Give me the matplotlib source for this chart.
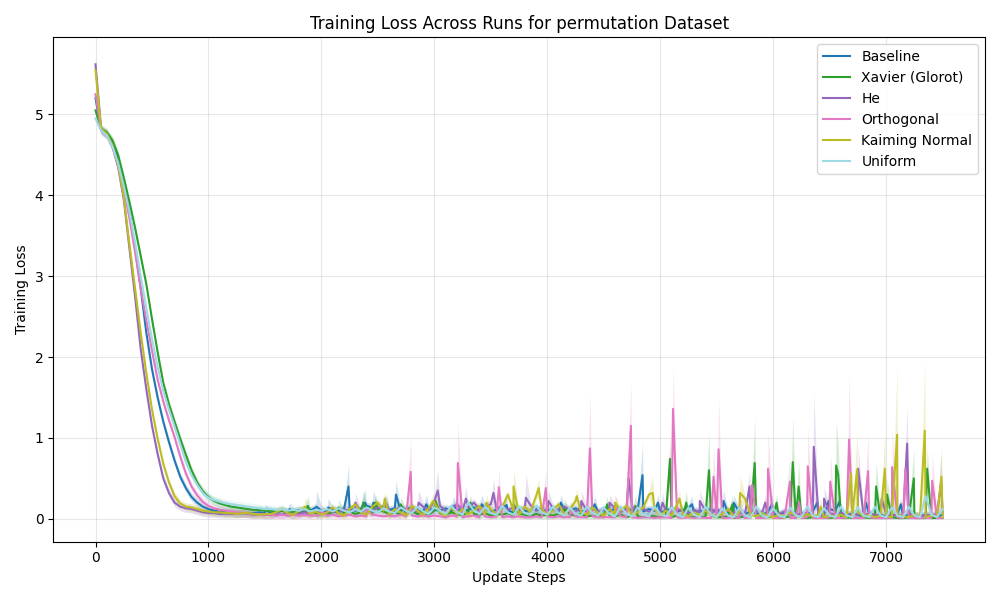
import numpy as np
import matplotlib
matplotlib.use('Agg')
import matplotlib.pyplot as plt

# logged every 50 update steps
steps = np.arange(0, 7501, 50)

run_names = ['Baseline', 'Xavier (Glorot)', 'He', 'Orthogonal', 'Kaiming Normal', 'Uniform']

baseline_loss = [
    5.20, 4.80, 4.76, 4.65, 4.45, 4.15, 3.80, 3.35, 2.85, 2.30,
    1.85, 1.50, 1.20, 0.95, 0.72, 0.52, 0.38, 0.27, 0.20, 0.15,
    0.12, 0.10, 0.09, 0.08, 0.08, 0.07, 0.07, 0.07, 0.07, 0.08, 0.07,
    0.07, 0.08, 0.10, 0.08, 0.09, 0.11, 0.09, 0.10, 0.14, 0.10,
    0.09, 0.11, 0.10, 0.12, 0.13, 0.10, 0.12, 0.16, 0.14, 0.12,
    0.15, 0.11, 0.13, 0.10, 0.12, 0.14, 0.10, 0.09, 0.12, 0.11,
    0.10, 0.13, 0.09, 0.12, 0.10, 0.11, 0.14, 0.10, 0.12, 0.09,
    0.11, 0.13, 0.10, 0.08, 0.12, 0.10, 0.09, 0.13, 0.11, 0.10,
    0.12, 0.09, 0.11, 0.10, 0.13, 0.09, 0.10, 0.12, 0.08, 0.11,
    0.10, 0.12, 0.09, 0.13, 0.10, 0.11, 0.09, 0.12, 0.10, 0.08,
    0.10, 0.12, 0.09, 0.11, 0.13, 0.08, 0.10, 0.09, 0.12, 0.08,
    0.09, 0.07, 0.10, 0.08, 0.06, 0.09, 0.07, 0.05, 0.08, 0.06,
    0.05, 0.08, 0.06, 0.04, 0.07, 0.05, 0.09, 0.06, 0.05, 0.12,
    0.10, 0.06, 0.04, 0.07, 0.05, 0.03, 0.06, 0.04, 0.05, 0.03,
    0.04, 0.06, 0.03, 0.05, 0.04, 0.03, 0.05, 0.04, 0.03, 0.05,
]
xavier_loss = [
    5.05, 4.82, 4.78, 4.68, 4.50, 4.22, 3.92, 3.60, 3.25, 2.90,
    2.47, 2.06, 1.68, 1.42, 1.20, 0.99, 0.79, 0.60, 0.45, 0.34,
    0.27, 0.22, 0.19, 0.17, 0.15, 0.14, 0.13, 0.12, 0.11, 0.11, 0.10,
    0.10, 0.09, 0.10, 0.08, 0.09, 0.07, 0.08, 0.10, 0.07, 0.08,
    0.06, 0.08, 0.10, 0.07, 0.09, 0.06, 0.08, 0.11, 0.07, 0.12,
    0.09, 0.06, 0.08, 0.05, 0.07, 0.09, 0.06, 0.08, 0.05, 0.10,
    0.07, 0.05, 0.08, 0.06, 0.04, 0.09, 0.06, 0.05, 0.07, 0.04,
    0.06, 0.05, 0.07, 0.04, 0.06, 0.05, 0.03, 0.06, 0.04, 0.05,
    0.04, 0.06, 0.03, 0.05, 0.04, 0.06, 0.03, 0.04, 0.05, 0.03,
    0.04, 0.03, 0.05, 0.02, 0.04, 0.03, 0.02, 0.04, 0.03, 0.02,
    0.03, 0.02, 0.04, 0.02, 0.03, 0.02, 0.03, 0.02, 0.04, 0.02,
    0.02, 0.03, 0.01, 0.02, 0.03, 0.02, 0.01, 0.02, 0.03, 0.02,
    0.01, 0.02, 0.03, 0.01, 0.02, 0.01, 0.02, 0.01, 0.02, 0.01,
    0.02, 0.01, 0.02, 0.01, 0.01, 0.02, 0.01, 0.02, 0.01, 0.01,
    0.02, 0.01, 0.01, 0.02, 0.01, 0.01, 0.02, 0.01, 0.01, 0.01,
]
he_loss = [
    5.62, 4.82, 4.75, 4.60, 4.35, 3.95, 3.35, 2.75, 2.10, 1.60,
    1.15, 0.80, 0.50, 0.32, 0.20, 0.15, 0.13, 0.12, 0.10, 0.08,
    0.07, 0.07, 0.06, 0.06, 0.06, 0.06, 0.07, 0.06, 0.05, 0.06, 0.05,
    0.05, 0.06, 0.05, 0.07, 0.05, 0.06, 0.08, 0.06, 0.09, 0.07,
    0.08, 0.10, 0.07, 0.12, 0.09, 0.11, 0.08, 0.13, 0.10, 0.14,
    0.12, 0.09, 0.11, 0.14, 0.10, 0.12, 0.09, 0.15, 0.11, 0.22,
    0.16, 0.10, 0.13, 0.18, 0.11, 0.14, 0.20, 0.12, 0.15, 0.18,
    0.12, 0.16, 0.11, 0.14, 0.10, 0.13, 0.17, 0.10, 0.12, 0.09,
    0.13, 0.10, 0.15, 0.11, 0.09, 0.14, 0.10, 0.12, 0.09, 0.11,
    0.10, 0.13, 0.09, 0.11, 0.15, 0.10, 0.12, 0.09, 0.11, 0.08,
    0.10, 0.08, 0.12, 0.09, 0.07, 0.11, 0.08, 0.10, 0.07, 0.12,
    0.08, 0.10, 0.07, 0.09, 0.06, 0.08, 0.11, 0.07, 0.05, 0.08,
    0.06, 0.09, 0.05, 0.07, 0.04, 0.08, 0.05, 0.06, 0.04, 0.07,
    0.05, 0.08, 0.04, 0.06, 0.05, 0.04, 0.07, 0.05, 0.04, 0.06,
    0.04, 0.05, 0.03, 0.06, 0.04, 0.03, 0.05, 0.04, 0.06, 0.08,
]
orthogonal_loss = [
    5.25, 4.80, 4.74, 4.60, 4.38, 4.08, 3.72, 3.30, 2.85, 2.45,
    2.08, 1.72, 1.45, 1.22, 1.01, 0.77, 0.56, 0.40, 0.29, 0.21,
    0.16, 0.13, 0.11, 0.10, 0.09, 0.08, 0.07, 0.07, 0.06, 0.06, 0.05,
    0.05, 0.04, 0.05, 0.04, 0.05, 0.04, 0.05, 0.04, 0.04, 0.05,
    0.04, 0.05, 0.03, 0.04, 0.05, 0.03, 0.04, 0.03, 0.05, 0.04,
    0.03, 0.04, 0.03, 0.05, 0.03, 0.04, 0.03, 0.04, 0.03, 0.04,
    0.03, 0.02, 0.04, 0.03, 0.02, 0.03, 0.04, 0.02, 0.03, 0.02,
    0.03, 0.02, 0.03, 0.02, 0.03, 0.02, 0.02, 0.03, 0.02, 0.03,
    0.02, 0.03, 0.02, 0.02, 0.03, 0.02, 0.02, 0.03, 0.02, 0.02,
    0.02, 0.02, 0.03, 0.02, 0.02, 0.01, 0.02, 0.02, 0.01, 0.02,
    0.02, 0.01, 0.02, 0.01, 0.02, 0.01, 0.02, 0.01, 0.01, 0.02,
    0.01, 0.01, 0.02, 0.01, 0.01, 0.02, 0.01, 0.01, 0.02, 0.01,
    0.01, 0.02, 0.01, 0.01, 0.01, 0.02, 0.01, 0.01, 0.01, 0.02,
    0.01, 0.01, 0.02, 0.01, 0.01, 0.01, 0.02, 0.01, 0.01, 0.01,
    0.01, 0.02, 0.01, 0.01, 0.01, 0.01, 0.02, 0.01, 0.01, 0.01,
]
kaiming_loss = [
    5.55, 4.82, 4.76, 4.62, 4.38, 3.98, 3.40, 2.85, 2.30, 1.80,
    1.35, 0.99, 0.68, 0.45, 0.28, 0.19, 0.15, 0.14, 0.12, 0.10,
    0.09, 0.08, 0.08, 0.07, 0.07, 0.06, 0.07, 0.07, 0.06, 0.05, 0.06,
    0.06, 0.08, 0.12, 0.07, 0.05, 0.10, 0.13, 0.06, 0.09, 0.05,
    0.08, 0.14, 0.07, 0.04, 0.12, 0.18, 0.08, 0.05, 0.15, 0.20,
    0.10, 0.05, 0.12, 0.08, 0.04, 0.16, 0.10, 0.05, 0.13, 0.20,
    0.08, 0.04, 0.14, 0.06, 0.12, 0.05, 0.10, 0.16, 0.06, 0.12,
    0.05, 0.14, 0.30, 0.10, 0.05, 0.15, 0.08, 0.28, 0.12, 0.05,
    0.10, 0.18, 0.06, 0.12, 0.22, 0.08, 0.05, 0.14, 0.07, 0.04,
    0.12, 0.06, 0.10, 0.16, 0.05, 0.08, 0.14, 0.30, 0.12, 0.05,
    0.10, 0.04, 0.18, 0.06, 0.03, 0.08, 0.04, 0.10, 0.05, 0.03,
    0.06, 0.12, 0.04, 0.08, 0.25, 0.05, 0.03, 0.07, 0.04, 0.02,
    0.05, 0.03, 0.08, 0.04, 0.02, 0.06, 0.03, 0.05, 0.02, 0.04,
    0.03, 0.05, 0.02, 0.04, 0.08, 0.03, 0.05, 0.02, 0.04, 0.03,
    0.02, 0.04, 0.03, 0.02, 0.05, 0.03, 0.02, 0.04, 0.03, 0.02,
]
uniform_loss = [
    4.95, 4.80, 4.74, 4.60, 4.40, 4.12, 3.80, 3.42, 3.00, 2.60,
    2.22, 1.88, 1.58, 1.35, 1.14, 0.92, 0.70, 0.54, 0.42, 0.32,
    0.26, 0.23, 0.21, 0.19, 0.18, 0.17, 0.16, 0.15, 0.14, 0.13, 0.12,
    0.12, 0.11, 0.12, 0.10, 0.11, 0.10, 0.12, 0.09, 0.11, 0.10,
    0.12, 0.09, 0.13, 0.10, 0.08, 0.12, 0.09, 0.14, 0.10, 0.08,
    0.13, 0.09, 0.07, 0.14, 0.10, 0.07, 0.15, 0.09, 0.06, 0.14,
    0.10, 0.06, 0.16, 0.08, 0.05, 0.20, 0.10, 0.06, 0.15, 0.07,
    0.05, 0.16, 0.08, 0.05, 0.15, 0.07, 0.05, 0.16, 0.08, 0.05,
    0.15, 0.07, 0.04, 0.14, 0.06, 0.04, 0.15, 0.07, 0.04, 0.14,
    0.06, 0.03, 0.15, 0.06, 0.03, 0.14, 0.05, 0.03, 0.15, 0.06,
    0.03, 0.14, 0.05, 0.02, 0.14, 0.05, 0.02, 0.15, 0.05, 0.02,
    0.13, 0.04, 0.02, 0.14, 0.04, 0.02, 0.15, 0.04, 0.02, 0.13,
    0.04, 0.02, 0.14, 0.04, 0.02, 0.15, 0.04, 0.02, 0.13, 0.04,
    0.02, 0.15, 0.04, 0.02, 0.14, 0.04, 0.02, 0.15, 0.04, 0.02,
    0.14, 0.04, 0.02, 0.15, 0.04, 0.02, 0.28, 0.05, 0.02, 0.12,
]

# typical spread (std over seeds) away from the spikes
spreads = [0.05, 0.05, 0.05, 0.05, 0.05, 0.05]

# loss spikes between logged points: (step, mean loss, upper edge of band)
baseline_spikes = [(1500, 0.12, 0.18), (1720, 0.12, 0.20), (1958, 0.15, 0.35), (2060, 0.14, 0.25),
                   (2240, 0.40, 0.67), (2386, 0.20, 0.37), (2460, 0.20, 0.35), (2560, 0.20, 0.30),
                   (2660, 0.30, 0.48), (2930, 0.18, 0.30), (3170, 0.16, 0.28), (3420, 0.18, 0.30),
                   (3640, 0.17, 0.30), (4120, 0.20, 0.30), (4420, 0.18, 0.28), (4843, 0.54, 0.94),
                   (4980, 0.20, 0.30), (5280, 0.18, 0.28), (5560, 0.22, 0.36), (5650, 0.20, 0.30),
                   (5990, 0.18, 0.30), (6390, 0.20, 0.28), (6492, 0.22, 0.35), (6590, 0.22, 0.30),
                   (6820, 0.20, 0.30), (7130, 0.18, 0.26)]
xavier_spikes = [(1880, 0.16, 0.28), (2150, 0.14, 0.24), (2370, 0.20, 0.35), (2480, 0.20, 0.30),
                 (2700, 0.18, 0.28), (3010, 0.22, 0.30), (3320, 0.20, 0.30), (3700, 0.18, 0.30),
                 (4150, 0.15, 0.25), (4530, 0.18, 0.28), (4780, 0.16, 0.30), (5086, 0.74, 1.00),
                 (5230, 0.20, 0.35), (5431, 0.60, 1.07), (5640, 0.18, 0.30), (5836, 0.69, 1.24),
                 (6030, 0.20, 0.30), (6173, 0.70, 1.26), (6225, 0.40, 0.70), (6557, 0.66, 1.20),
                 (6575, 0.55, 0.92), (6911, 0.40, 0.70), (7008, 0.30, 0.50), (7245, 0.50, 0.88),
                 (7363, 0.62, 0.90)]
he_spikes = [(2300, 0.20, 0.32), (2580, 0.18, 0.30), (2860, 0.20, 0.35), (3030, 0.35, 0.61),
             (3280, 0.25, 0.40), (3523, 0.32, 0.50), (3810, 0.26, 0.55), (4010, 0.22, 0.35),
             (4300, 0.22, 0.35), (4550, 0.20, 0.30), (4720, 0.50, 0.90), (5020, 0.20, 0.32),
             (5350, 0.22, 0.35), (5790, 0.40, 0.60), (5930, 0.20, 0.30), (6359, 0.89, 1.55),
             (6450, 0.25, 0.40), (6752, 0.62, 0.90), (6960, 0.25, 0.40), (7186, 0.93, 1.41),
             (7487, 0.45, 0.80)]
orthogonal_spikes = [(2000, 0.10, 0.18), (2400, 0.12, 0.20), (2791, 0.58, 1.02), (3208, 0.69, 1.23),
                     (3400, 0.15, 0.25), (3571, 0.39, 0.61), (3987, 0.38, 0.61), (4200, 0.12, 0.22),
                     (4377, 0.87, 1.55), (4600, 0.15, 0.30), (4740, 1.15, 1.72), (5113, 1.36, 1.89),
                     (5472, 0.52, 0.89), (5516, 0.86, 1.51), (5700, 0.15, 0.30), (5813, 0.42, 0.72),
                     (5954, 0.62, 1.09), (6149, 0.46, 0.81), (6230, 0.20, 0.35), (6306, 0.65, 1.13),
                     (6505, 0.46, 0.81), (6672, 0.98, 1.77), (6840, 0.59, 1.05), (7053, 0.64, 1.13),
                     (7170, 0.62, 1.00), (7407, 0.47, 0.83)]
kaiming_spikes = [(1850, 0.15, 0.27), (2560, 0.25, 0.33), (2990, 0.22, 0.32), (3460, 0.20, 0.30),
                  (3701, 0.40, 0.61), (3923, 0.38, 0.50), (4260, 0.28, 0.38), (4600, 0.20, 0.30),
                  (4932, 0.32, 0.53), (5170, 0.25, 0.35), (5706, 0.32, 0.53), (6420, 0.15, 0.25),
                  (6690, 0.56, 0.90), (6743, 0.61, 1.08), (6988, 0.62, 1.09), (7097, 1.04, 1.88),
                  (7342, 1.09, 1.95), (7490, 0.52, 0.90)]
uniform_spikes = []

colors = ['#1f77b4', '#2ca02c', '#9467bd', '#e377c2', '#bcbd22', '#9edae5']


def merge(loss, spread, spikes):
    x = list(steps)
    y = list(loss)
    lo = [max(v - spread, 0) for v in loss]
    hi = [v + spread for v in loss]
    for s, peak, top in spikes:
        x.append(s)
        y.append(peak)
        lo.append(max(2 * peak - top, 0))
        hi.append(top)
    order = np.argsort(x, kind='stable')
    return (np.array(x)[order], np.array(y)[order],
            np.array(lo)[order], np.array(hi)[order])


def main():
    all_loss = [baseline_loss, xavier_loss, he_loss, orthogonal_loss, kaiming_loss, uniform_loss]
    all_spikes = [baseline_spikes, xavier_spikes, he_spikes, orthogonal_spikes,
                  kaiming_spikes, uniform_spikes]

    fig, ax = plt.subplots(figsize=(10, 6), dpi=100)
    for name, loss, spread, spikes, c in zip(run_names, all_loss, spreads, all_spikes, colors):
        x, y, lo, hi = merge(loss, spread, spikes)
        ax.plot(x, y, color=c, linewidth=1.5, label=name)
        ax.fill_between(x, lo, hi, color=c, alpha=0.2, linewidth=0)

    ax.set_title('Training Loss Across Runs for permutation Dataset')
    ax.set_xlabel('Update Steps')
    ax.set_ylabel('Training Loss')
    ax.grid(True, alpha=0.3)
    ax.legend(loc='upper right')
    fig.tight_layout()
    fig.savefig('out.png')


if __name__ == '__main__':
    main()
